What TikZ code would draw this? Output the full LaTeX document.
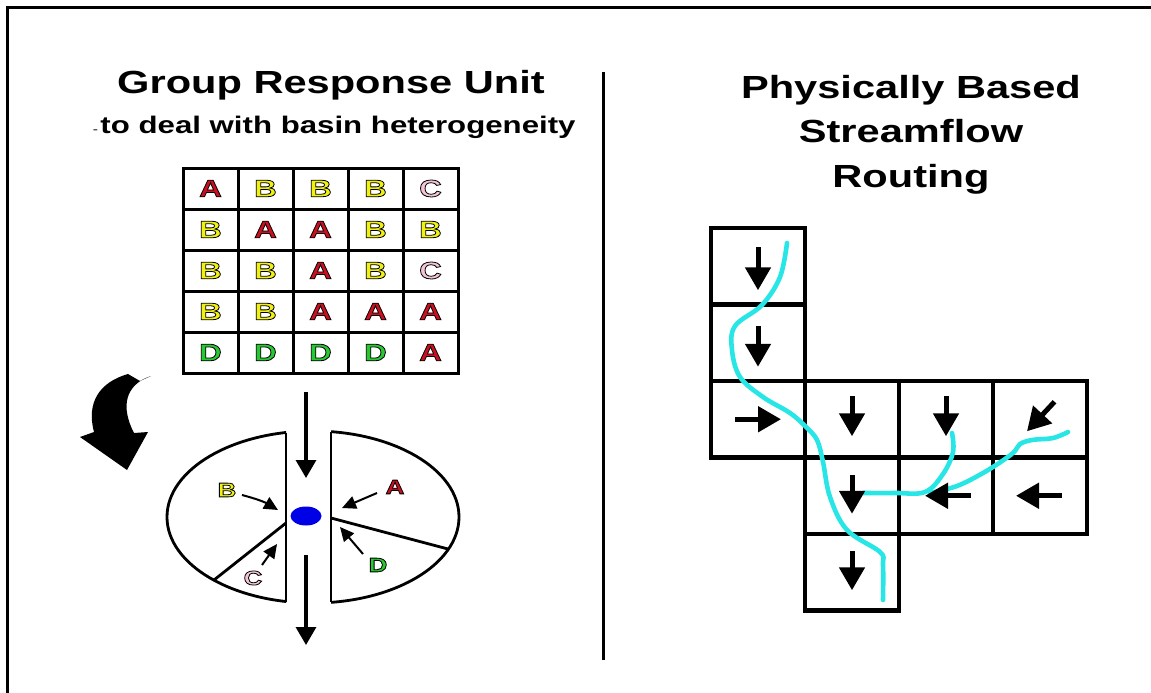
\documentclass[tikz,border=0pt]{standalone}
\usepackage{fontspec}
\setsansfont{Liberation Sans}[FakeStretch=1.3]
\usetikzlibrary{arrows.meta,shapes.geometric,calc}

\definecolor{gruA}{RGB}{200,16,32}
\definecolor{gruB}{RGB}{240,240,20}
\definecolor{gruC}{RGB}{244,196,212}
\definecolor{gruD}{RGB}{40,200,50}
\definecolor{river}{RGB}{40,230,230}
\definecolor{outletblue}{RGB}{0,0,230}

% filled letter with a thin black outline
\newcommand\outlined[2]{{\color{#1}\special{pdf:literal direct 0 G 0.8 w 2 Tr}#2\special{pdf:literal direct 0 Tr}}}

\tikzset{
  frameline/.style={line width=3pt},
  gcell/.style={draw, line width=3pt, minimum width=55pt, minimum height=41pt,
    inner sep=0pt, font=\sffamily\bfseries\fontsize{24}{24}\selectfont},
  rcell/.style={draw, line width=4.2pt, minimum width=94pt, minimum height=76.5pt, inner sep=0pt},
  flow/.style={line width=5pt, -{Triangle[length=23pt,width=25pt]}},
  drain/.style={line width=3.2pt, -{Triangle[length=18pt,width=20pt]}},
  pointer/.style={line width=2pt, -{Triangle[length=14pt,width=13pt]}},
  piece/.style={line width=2.8pt},
  stream/.style={river, line width=4.6pt, line cap=round, line join=round},
  heading/.style={font=\sffamily\bfseries\fontsize{32}{44.5}\selectfont, align=center, inner sep=0pt},
  subheading/.style={font=\sffamily\bfseries\fontsize{24}{24}\selectfont, inner sep=0pt},
  lbl/.style={font=\sffamily\bfseries\fontsize{20}{20}\selectfont, inner sep=0pt},
}

\begin{document}
\begin{tikzpicture}[x=1pt,y=-1pt]
\useasboundingbox (0,0) rectangle (1151,693);

% outer frame and divider
\draw[frameline] (7,693) -- (7,8) -- (1151,8);
\coordinate (divtop) at (603,72);
\coordinate (divbot) at (603,660);
\draw[frameline] (divtop) -- (divbot);

% ---------------- left panel ----------------
\node[heading, anchor=base] (gruTitle) at (331,93) {Group Response Unit};
\node[subheading, anchor=base] (gruSub) at (338,133) {to deal with basin heterogeneity};
\node[anchor=base east, font=\sffamily\fontsize{12}{12}\selectfont, inner sep=0pt] (gruDash) at (gruSub.base west) {-\,};

% grid of land classes
\foreach \L [count=\i from 0] in {A,B,B,B,C}
  \node[gcell] (g-\i-0) at (210.5+55*\i, 188.5) {\outlined{gru\L}{\L}};
\foreach \L [count=\i from 0] in {B,A,A,B,B}
  \node[gcell] (g-\i-1) at (210.5+55*\i, 229.5) {\outlined{gru\L}{\L}};
\foreach \L [count=\i from 0] in {B,B,A,B,C}
  \node[gcell] (g-\i-2) at (210.5+55*\i, 270.5) {\outlined{gru\L}{\L}};
\foreach \L [count=\i from 0] in {B,B,A,A,A}
  \node[gcell] (g-\i-3) at (210.5+55*\i, 311.5) {\outlined{gru\L}{\L}};
\foreach \L [count=\i from 0] in {D,D,D,D,A}
  \node[gcell] (g-\i-4) at (210.5+55*\i, 352.5) {\outlined{gru\L}{\L}};

% curved black arrow with a ragged top
\fill (128,374) -- (140,381) -- (151,376)
  .. controls (124,385) and (121,408) .. (134,433)
  -- (148,432) -- (127,470) -- (80,437) -- (94,432)
  .. controls (86,402) and (100,382) .. (128,374) -- cycle;

% split response unit
\begin{scope}
  \clip (0,0) rectangle (286,693);
  \draw[piece] (313,517) ellipse [x radius=146, y radius=86];
\end{scope}
\begin{scope}
  \clip (331,0) rectangle (700,693);
  \draw[piece] (313,517) ellipse [x radius=146, y radius=86];
\end{scope}
\draw[piece] (286,432.5) -- (286,601.5);
\draw[piece] (331,431.7) -- (331,602.3);
\draw[piece] (286,523) -- (214,580);
\draw[piece] (331,518) -- (448,549);

% outlet
\node[ellipse, fill=outletblue, minimum width=31pt, minimum height=19pt, inner sep=0pt] (outlet) at (306,516) {};
\coordinate (inflowStart) at (306,392);
\coordinate (inflowEnd) at (306,478);
\coordinate (outflowStart) at (306,555);
\coordinate (outflowEnd) at (306,645);
\draw[drain] (inflowStart) -- (inflowEnd);
\draw[drain] (outflowStart) -- (outflowEnd);

% class labels pointing at the outlet
\node[lbl] (lB) at (227,490) {\outlined{gruB}{B}};
\node[lbl] (lA) at (395,487) {\outlined{gruA}{A}};
\node[lbl] (lC) at (253,578) {\outlined{gruC}{C}};
\node[lbl] (lD) at (378,565) {\outlined{gruD}{D}};
\coordinate (tB) at (278,510);
\coordinate (tA) at (342,508);
\coordinate (tC) at (277,544);
\coordinate (tD) at (340,527);
\draw[pointer] (242,495) to[bend left=8] (tB);
\draw[pointer] (377,493) -- (tA);
\draw[pointer] (262,565) -- (tC);
\draw[pointer] (363,554) -- (tD);

% ---------------- right panel ----------------
\node[heading, anchor=base] (routeTitle) at (911,187) {Physically Based\\Streamflow\\Routing};

% flow-direction cells
\foreach \c/\r/\n in {0/0/a,0/1/b,0/2/c,1/2/d,2/2/e,3/2/f,1/3/g,2/3/h,3/3/i,1/4/j}
  \node[rcell] (cell-\n) at (758+94*\c, 266.25+76.5*\r) {};

% rivers
\draw[stream] plot[smooth, tension=0.6] coordinates {(787,243) (780,277) (762,305) (735,326) (732,350) (740,377) (763,397) (790,413) (806,427) (817,440) (823,462) (830,497) (847,530) (880,552) (883,565) (883,600)};
\draw[stream] plot[smooth, tension=0.6] coordinates {(952,433) (953,452) (943,474) (925,492) (895,493) (863,493)};
\draw[stream] plot[smooth, tension=0.6] coordinates {(1068,432) (1053,438) (1032,440) (1020,444) (1015,451) (1005,459) (983,473) (957,486) (930,493)};

% flow arrows
\draw[flow] ($(cell-a)+(0,-19)$) -- ($(cell-a)+(0,24)$);
\draw[flow] ($(cell-b)+(0,-17)$) -- ($(cell-b)+(0,24)$);
\draw[flow] ($(cell-c)+(-23,0)$) -- ($(cell-c)+(23,0)$);
\draw[flow] ($(cell-d)+(0,-23)$) -- ($(cell-d)+(0,17)$);
\draw[flow] ($(cell-e)+(0,-23)$) -- ($(cell-e)+(0,17)$);
\draw[flow] ($(cell-f)+(14.5,-17.5)$) -- ($(cell-f)+(-13,12)$);
\draw[flow] ($(cell-g)+(0,-21)$) -- ($(cell-g)+(0,18)$);
\draw[flow] ($(cell-h)+(24.5,0)$) -- ($(cell-h)+(-21,0)$);
\draw[flow] ($(cell-i)+(21.5,0)$) -- ($(cell-i)+(-24,0)$);
\draw[flow] ($(cell-j)+(0,-21)$) -- ($(cell-j)+(0,18)$);
\end{tikzpicture}
\end{document}
